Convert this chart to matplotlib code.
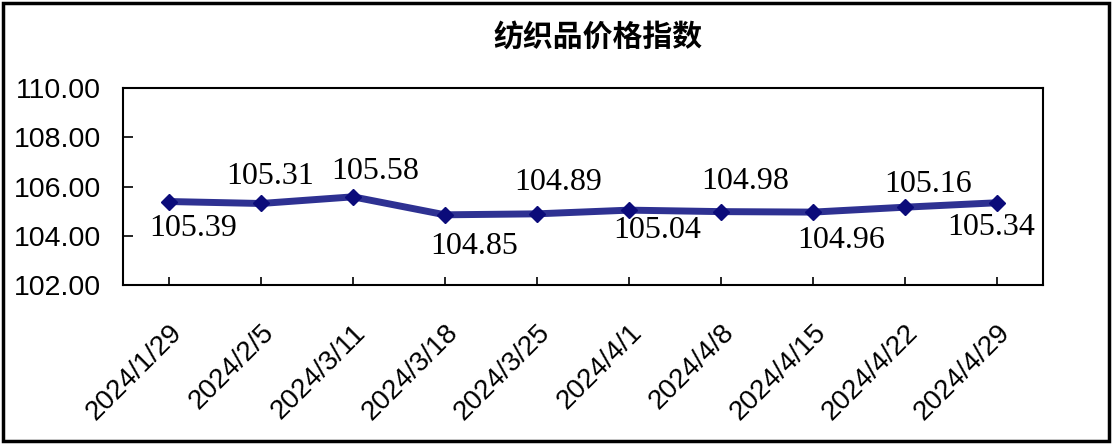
import matplotlib
matplotlib.use('Agg')
import matplotlib.pyplot as plt
from matplotlib.patches import Rectangle
from matplotlib.transforms import ScaledTranslation

# weekly textile price index
dates = ['2024/1/29', '2024/2/5', '2024/3/11', '2024/3/18', '2024/3/25',
         '2024/4/1', '2024/4/8', '2024/4/15', '2024/4/22', '2024/4/29']
values = [105.39, 105.31, 105.58, 104.85, 104.89,
          105.04, 104.98, 104.96, 105.16, 105.34]
y_ticks = [102, 104, 106, 108, 110]
title = '纺织品价格指数'

# label offsets in pixels (dx, dy) from each point, as in the source image
label_offsets = [(24, -27), (9, 27), (22, 25), (29, -32), (21, 31),
                 (28, -20), (24, 30), (28, -28), (23, 23), (-6, -25)]

LINE_COLOR = '#2e3192'
MARKER_COLOR = '#0b0b7a'
PX = 0.72  # points per pixel at dpi 100

fig = plt.figure(figsize=(11.12, 4.44), dpi=100)
fig.patch.set_facecolor('white')
ax = fig.add_axes([123 / 1112, 1 - 285 / 444, 920 / 1112, 197 / 444])

x = list(range(len(dates)))
ax.plot(x, values, color=LINE_COLOR, linewidth=5, marker='D',
        markersize=8.5, markerfacecolor=MARKER_COLOR,
        markeredgecolor=MARKER_COLOR, zorder=3)

for xi, v, (dx, dy) in zip(x, values, label_offsets):
    ax.annotate(f'{v:.2f}', (xi, v), xytext=(dx * PX, dy * PX),
                textcoords='offset points', ha='center', va='center',
                fontsize=23, family='Liberation Serif', color='black')

ax.set_xlim(-0.5, len(dates) - 0.5)
ax.set_ylim(y_ticks[0], y_ticks[-1])
ax.set_yticks(y_ticks)
ax.set_yticklabels([f'{t:.2f}' for t in y_ticks], fontsize=20.5,
                   family='Liberation Sans')
ax.set_xticks(x)
ax.set_xticklabels(dates, rotation=45, ha='right', va='top',
                   rotation_mode='anchor', fontsize=20, family='Liberation Sans')
shift = ScaledTranslation(-7 / 100, 0, fig.dpi_scale_trans)
for lbl in ax.get_xticklabels():
    lbl.set_transform(lbl.get_transform() + shift)

ax.tick_params(axis='y', direction='in', length=7, width=1.2, pad=16)
ax.tick_params(axis='x', direction='in', length=6, width=1.2, pad=25)
for s in ax.spines.values():
    s.set_color('black')
    s.set_linewidth(1.5)

fig.text(598 / 1112, 1 - 37 / 444, title, ha='center', va='center',
         fontsize=21.5, fontweight='bold',
         family=['Noto Sans CJK SC', 'DejaVu Sans'])

# outer frame around the whole chart
fig.patches.append(Rectangle((0.003, 0.006), 0.994, 0.988,
                             transform=fig.transFigure, fill=False,
                             edgecolor='black', linewidth=2.5))

fig.savefig('out.png', dpi=100, facecolor='white')
